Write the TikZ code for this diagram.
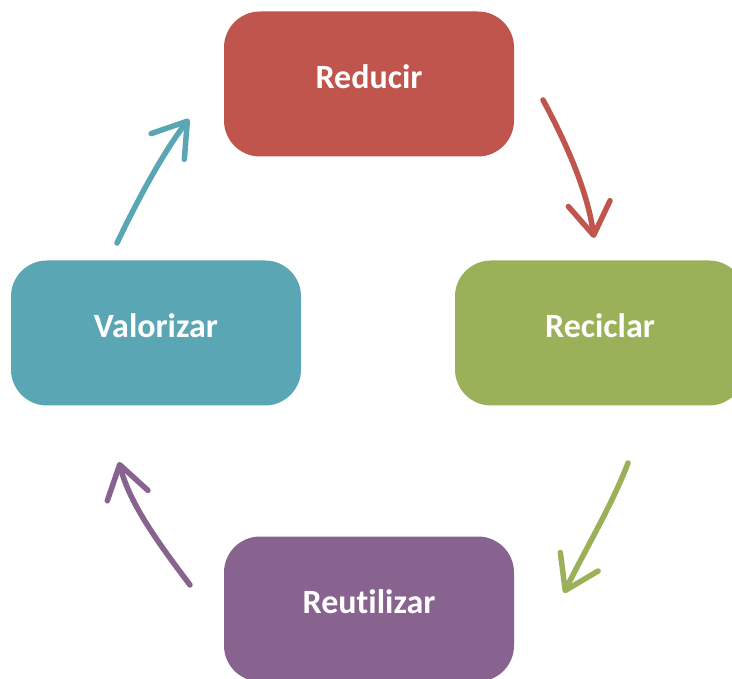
\documentclass[tikz,border=0pt]{standalone}
\usepackage{fontspec}
\setmainfont[Ligatures=NoCommon]{Carlito}
\usetikzlibrary{arrows.meta,positioning}

\definecolor{redbox}{RGB}{192,85,77}
\definecolor{greenbox}{RGB}{155,177,89}
\definecolor{purplebox}{RGB}{136,99,144}
\definecolor{tealbox}{RGB}{91,166,180}

\tikzset{
  stagebox/.style={rounded corners=36pt, minimum width=290pt, minimum height=145pt,
    text=white, font=\fontsize{34}{40}\selectfont\bfseries, inner sep=0pt,
    text height=24pt, text depth=15pt},
  cyclearrow/.style={line width=5.5pt, line cap=round, line join=round,
    -{Straight Barb[length=32pt, width=42pt, line cap=round, round]}}
}

\begin{document}
\begin{tikzpicture}[x=1pt, y=-1pt]
            \useasboundingbox (0,0) rectangle (732,679);
            \clip (0,0) rectangle (732,679);

            % the four stages
            \node[stagebox, fill=redbox] (reducir) at (369,84) {Reducir};
            \node[stagebox, fill=greenbox] (reciclar) at (600,333) {Reciclar};
            \node[stagebox, fill=purplebox] (reutilizar) at (369,609) {Reutilizar};
            \node[stagebox, fill=tealbox] (valorizar) at (156,333) {Valorizar};

            % arrow ends between the boxes
            \coordinate (r1) at (543,100);
            \coordinate (r2) at (594,238);
            \coordinate (g1) at (628,463);
            \coordinate (g2) at (564,593);
            \coordinate (p1) at (190,585);
            \coordinate (p2) at (119,462);
            \coordinate (t1) at (117,243);
            \coordinate (t2) at (189,119);

            \draw[cyclearrow, redbox] (r1) .. controls (570,150) and (588,195) .. (r2);
            \draw[cyclearrow, greenbox] (g1) .. controls (612,505) and (585,550) .. (g2);
            \draw[cyclearrow, purplebox] (p1) .. controls (160,545) and (130,505) .. (p2);
            \draw[cyclearrow, tealbox] (t1) .. controls (140,195) and (165,150) .. (t2);
        \end{tikzpicture}
\end{document}
